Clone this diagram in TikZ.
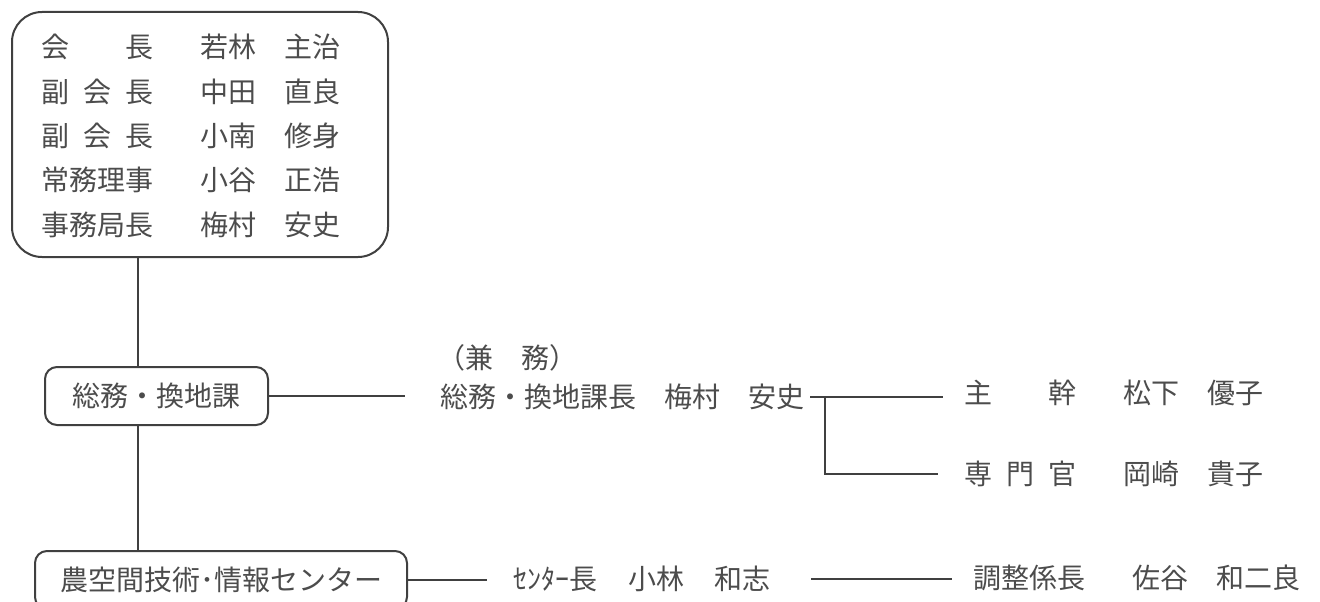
\documentclass[tikz,border=0pt]{standalone}
\usepackage{fontspec}
\setmainfont{Noto Sans CJK JP}

\tikzset{
  unit/.style={draw=black!75, line width=2pt, rounded corners=12pt},
  link/.style={draw=black!75, line width=2pt},
}
\newcommand{\yaku}[1]{\makebox[4em][s]{#1}\hspace{1.7em}}

\begin{document}
\begin{tikzpicture}[x=1pt,y=-1pt,font=\fontsize{28}{34}\selectfont]
\tikzstyle{every node}+=[inner sep=0pt, text=black!70]
\useasboundingbox (0,0) rectangle (1320,602);
\clip (0,0) rectangle (1320,602);
% officers
\node [unit, rounded corners=30pt, minimum width=376pt, minimum height=245pt] (board) at (200,134.5) {};
\node [anchor=west] (kaicho) at (41,47) {\yaku{会\hfill 長}若林　主治};
\node [anchor=west] (fuku1) at (41,92) {\yaku{副\hfill 会\hfill 長}中田　直良};
\node [anchor=west] (fuku2) at (41,136) {\yaku{副\hfill 会\hfill 長}小南　修身};
\node [anchor=west] (jomu) at (41,180) {\yaku{常務理事}小谷　正浩};
\node [anchor=west] (jimu) at (41,225) {\yaku{事務局長}梅村　安史};
% sections
\node [unit, minimum width=223pt, minimum height=58pt] (soumu) at (156.5,396) {総務・換地課};
\node [unit, minimum width=372pt, minimum height=58pt] (center) at (221,580) {農空間技術･情報センター};
\coordinate (trunk) at (138,0);
\draw [link] (board.south -| trunk) -- (soumu.north -| trunk);
\draw [link] (soumu.south -| trunk) -- (center.north -| trunk);
% staff
\node [anchor=west] (kenmu) at (437,358) {（兼　務）};
\node [anchor=west] (kacho) at (440,397) {総務・換地課長　梅村　安史};
\node [anchor=west] (shukan) at (964,393) {\yaku{主\hfill 幹}松下　優子};
\node [anchor=west] (senmon) at (964,474) {\yaku{専\hfill 門\hfill 官}岡崎　貴子};
\node [anchor=west] (choukan) at (513,579) {ｾﾝﾀｰ長\hspace{1.1em}小林\hspace{1.1em}和志};
\node [anchor=west] (chosei) at (973,578) {\yaku{調整係長}佐谷　和二良};
\coordinate (fork) at (825,397);
\draw [link, shorten >=35pt] (soumu.east) -- (soumu.east -| kacho.west);
\draw [link, shorten <=6pt, shorten >=21pt] (kacho.east) -- (shukan.west |- kacho.east);
\draw [link, shorten >=26pt] (fork) |- (senmon.west);
\draw [link, shorten >=26pt] (center.east) -- (center.east -| choukan.west);
\draw [link, shorten <=40pt, shorten >=21pt] (choukan.east) -- (chosei.west |- choukan.east);
\end{tikzpicture}
\end{document}
